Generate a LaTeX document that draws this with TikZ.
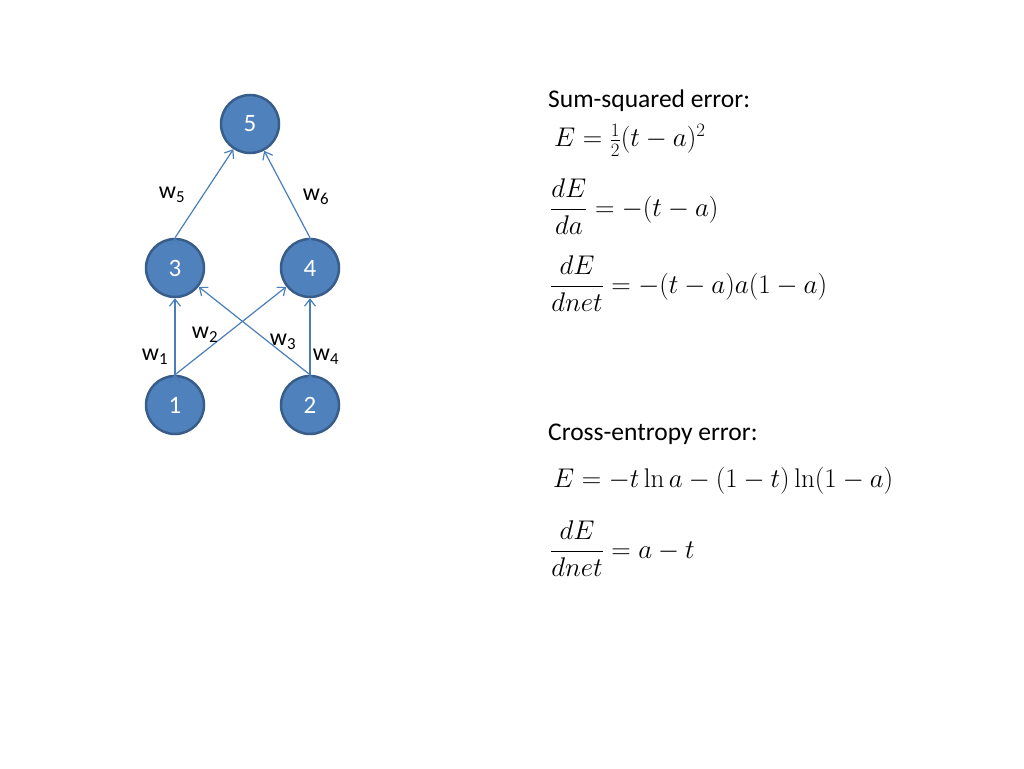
\RequirePackage{fix-cm}
\documentclass[tikz,border=0pt]{standalone}
\usepackage{amsmath}
\usepackage[no-math]{fontspec}
\setmainfont{Carlito}
\usetikzlibrary{arrows.meta}
\definecolor{nodefill}{HTML}{4F81BD}
\definecolor{nodeline}{HTML}{385D8A}
\definecolor{edgeblue}{HTML}{4A7EBB}
\tikzset{
  n/.style={circle,fill=nodefill,draw=nodeline,line width=2.5pt,minimum size=58pt,inner sep=0pt,text=white,font=\fontsize{25}{30}\selectfont},
  e/.style={edgeblue,line width=1.2pt,-{Straight Barb[length=7pt,width=11pt]}},
  wlab/.style={font=\fontsize{24}{28}\selectfont,inner sep=0pt},
  txt/.style={anchor=base west,inner sep=0pt,font=\fontsize{25.5}{30}\selectfont},
  eq/.style={anchor=west,inner sep=0pt,font=\fontsize{27}{32}\selectfont}
}
\begin{document}
\begin{tikzpicture}[x=1pt,y=-1pt]
  \useasboundingbox[fill=white] (0,0) rectangle (1024,768);
  % network
  \node[n](5) at (250,124){5};
  \node[n](3) at (175,268){3};
  \node[n](4) at (310,268){4};
  \node[n](1) at (175,405){1};
  \node[n](2) at (310,405){2};
  \draw[e](1.north) edge (3);
  \draw[e](1.north) edge (4);
  \draw[e](2.north) edge (3);
  \draw[e](2.north) edge (4);
  \draw[e](3.north) edge (5);
  \draw[e](4.north) edge (5);
  \node[wlab](w1) at (155,357){w\textsubscript{1}};
  \node[wlab](w2) at (205,335){w\textsubscript{2}};
  \node[wlab](w3) at (283,342){w\textsubscript{3}};
  \node[wlab](w4) at (326,357){w\textsubscript{4}};
  \node[wlab](w5) at (172,195){w\textsubscript{5}};
  \node[wlab](w6) at (316,197){w\textsubscript{6}};
  % equations
  \node[txt](sse) at (548,107){Sum-squared error:};
  \node[eq](e1) at (554,140){$E=\tfrac{1}{2}(t-a)^2$};
  \node[eq](e2) at (550,207){$\dfrac{dE}{da}=-(t-a)$};
  \node[eq](e3) at (550,284){$\dfrac{dE}{dnet}=-(t-a)a(1-a)$};
  \node[txt](cee) at (548,440){Cross-entropy error:};
  \node[eq](e4) at (553,481){$E=-t\ln a-(1-t)\ln(1-a)$};
  \node[eq](e5) at (550,549){$\dfrac{dE}{dnet}=a-t$};
\end{tikzpicture}
\end{document}
